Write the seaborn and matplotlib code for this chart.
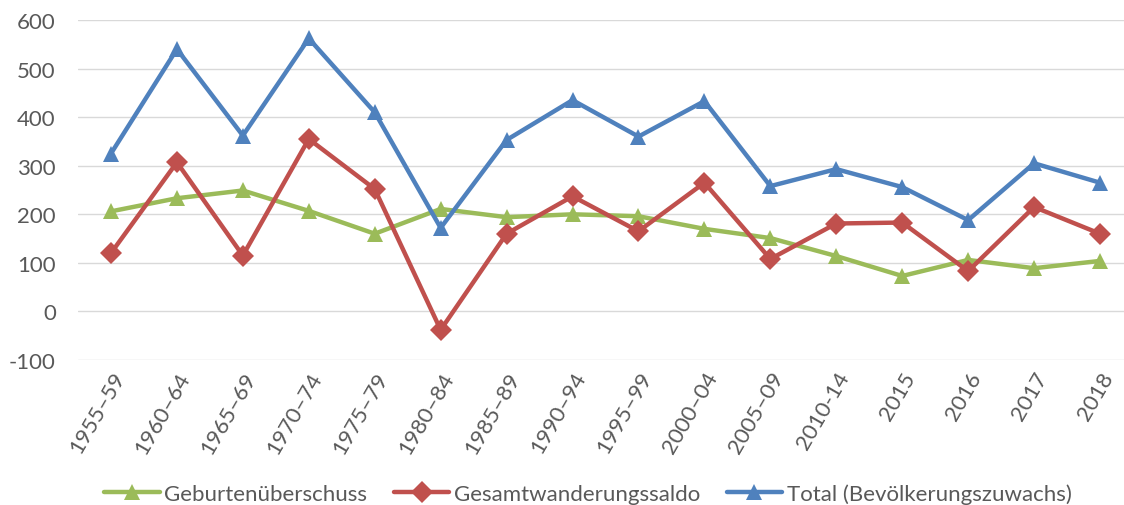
import pandas as pd
import matplotlib
matplotlib.use("Agg")
import matplotlib.pyplot as plt
import seaborn as sns

# === DATEN ===
perioden = ["1955–59", "1960–64", "1965–69", "1970–74", "1975–79", "1980–84",
            "1985–89", "1990–94", "1995–99", "2000–04", "2005–09", "2010-14",
            "2015", "2016", "2017", "2018"]
geburten = [206, 233, 249, 207, 160, 211, 194, 200, 196, 170, 151, 114, 73, 106, 89, 104]
wanderung = [120, 307, 115, 355, 252, -38, 160, 237, 165, 265, 108, 181, 183, 83, 215, 160]
total = [325, 540, 362, 562, 410, 172, 353, 435, 360, 433, 258, 293, 256, 188, 305, 265]

namen = ["Geburtenüberschuss", "Gesamtwanderungssaldo", "Total (Bevölkerungszuwachs)"]
farben = ["#9BBB59", "#C0504D", "#4F81BD"]
marker = ["^", "D", "^"]

df = pd.DataFrame({"Periode": perioden, namen[0]: geburten,
                   namen[1]: wanderung, namen[2]: total})
df_long = df.melt(id_vars="Periode", var_name="Reihe", value_name="Wert")

# === STIL ===
sns.set_style("white")
plt.rcParams["font.family"] = ["Lato", "DejaVu Sans"]
plt.rcParams["axes.unicode_minus"] = False
grau = "#595959"

fig = plt.figure(figsize=(11.24, 5.06), dpi=100)
ax = fig.add_axes([78 / 1124, 145 / 506, 1055 / 1124, 340 / 506])

sns.lineplot(data=df_long, x="Periode", y="Wert", hue="Reihe", style="Reihe",
             hue_order=namen, style_order=namen,
             palette=dict(zip(namen, farben)), markers=dict(zip(namen, marker)),
             dashes=False, linewidth=3.2, markersize=11.5, markeredgewidth=0,
             sort=False, ax=ax)

ax.set_ylim(-100, 600)
ax.set_xlim(-0.5, 15.5)
ax.set_yticks(range(-100, 601, 100))
ax.grid(axis="y", color="#D9D9D9", linewidth=1)
ax.set_axisbelow(True)
for s in ax.spines.values():
    s.set_visible(False)
ax.set_xlabel("")
ax.set_ylabel("")
ax.tick_params(axis="both", length=0, colors=grau, labelsize=16)
ax.tick_params(axis="y", pad=16)
ax.tick_params(axis="x", pad=6)
plt.setp(ax.get_xticklabels(), rotation=60, ha="right", rotation_mode="anchor")

handles, labels = ax.get_legend_handles_labels()
ax.get_legend().remove()
fig.legend(handles, labels, loc="center", bbox_to_anchor=(0.523, 0.022), ncol=3,
           frameon=False, fontsize=16, handlelength=2.5, handletextpad=0.2,
           columnspacing=1.2, labelcolor=grau)

fig.savefig("out.png", dpi=100)
